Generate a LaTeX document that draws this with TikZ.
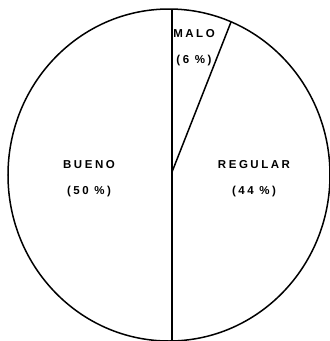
\documentclass[tikz,border=0pt]{standalone}
\usepackage{fontspec}
\newfontfamily\lblfont{Liberation Sans}[LetterSpace=22]
\begin{document}
\begin{tikzpicture}[x=1pt,y=-1pt,
  edge/.style={line width=1.5pt, black},
  lbl/.style={font=\lblfont\bfseries\fontsize{11.5}{13}\selectfont, align=center, inner sep=0pt}]
\useasboundingbox (0,0) rectangle (330,341);
\coordinate (c) at (169,175);
\coordinate (top) at (172,9);
\coordinate (bot) at (172,341);
\coordinate (v) at (172,172);
\coordinate (m) at (231,22);
\draw[edge] (c) ellipse [x radius=161pt, y radius=166pt];
\draw[edge] (top) -- (bot);
\draw[edge] (v) -- (m);
\node[lbl] (bueno) at (89,165) {BUENO};
\node[lbl] (buenop) at (89,192) {(50 \%)};
\node[lbl] (reg) at (254,165) {REGULAR};
\node[lbl] (regp) at (254,192) {(44 \%)};
\node[lbl] (malo) at (194,34) {MALO};
\node[lbl] (malop) at (194,61) {(6 \%)};
\end{tikzpicture}
\end{document}
